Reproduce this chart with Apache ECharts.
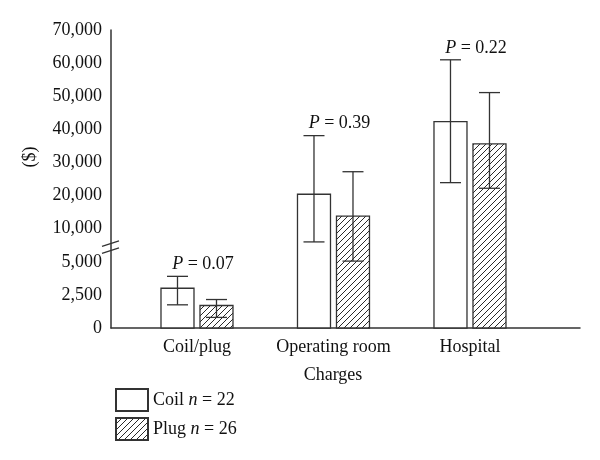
<!DOCTYPE html>
<html>
<head>
<meta charset="utf-8">
<script src="https://cdn.jsdelivr.net/npm/echarts@6/dist/echarts.min.js"></script>
<style>html,body{margin:0;padding:0;background:#fff;}#c{width:600px;height:460px;}</style>
</head>
<body>
<div id="c"></div>
<script>
const categories = ['Coil/plug', 'Operating room', 'Hospital'];
const coilMean = [3000, 20400, 42300];
const coilLow = [1750, 8000, 23900];
const coilHigh = [3900, 38100, 61000];
const plugMean = [1700, 13800, 35600];
const plugLow = [800, 5100, 22200];
const plugHigh = [2150, 27200, 51100];
const pValues = ['0.07', '0.39', '0.22'];
const legendN = [22, 26];
const yTickLabels = ['0', '2,500', '5,000', '10,000', '20,000', '30,000', '40,000', '50,000', '60,000', '70,000'];

// broken axis: 0-5000 in 2500 steps, then 10,000-70,000 in 10,000 steps
function toAxis(v) {
  if (v <= 5000) return v / 2500;
  if (v <= 10000) return 2 + (v - 5000) / 5000;
  return 3 + (v - 10000) / 10000;
}

const FONT = '"Liberation Serif", "DejaVu Serif", serif';
const INK = '#333';
const TXT = '#111';

function hatch() {
  const c = document.createElement('canvas');
  const s = 6;
  c.width = s; c.height = s;
  const g = c.getContext('2d');
  g.fillStyle = '#fff';
  g.fillRect(0, 0, s, s);
  g.strokeStyle = '#2a2a2a';
  g.lineWidth = 1;
  g.beginPath();
  g.moveTo(0, s); g.lineTo(s, 0);
  g.moveTo(-s / 2, s / 2); g.lineTo(s / 2, -s / 2);
  g.moveTo(s / 2, s * 1.5); g.lineTo(s * 1.5, s / 2);
  g.stroke();
  return c;
}
const hatchPattern = { image: hatch(), repeat: 'repeat' };

const BAR_W = 33;
const OFF = 19.5;
const X_MIN = -0.63, X_MAX = 2.806;

function barSeries(name, means, side, color) {
  return {
    name: name,
    type: 'custom',
    itemStyle: { color: color, borderColor: INK, borderWidth: 1.3 },
    encode: { x: 0, y: 1 },
    data: means.map((v, i) => [i, toAxis(v)]),
    renderItem: function (params, api) {
      const top = api.coord([api.value(0), api.value(1)]);
      const base = api.coord([api.value(0), 0]);
      const cx = top[0] + side * OFF;
      return {
        type: 'rect',
        shape: { x: cx - BAR_W / 2, y: top[1], width: BAR_W, height: base[1] - top[1] },
        style: { fill: color, stroke: INK, lineWidth: 1.3 }
      };
    }
  };
}

function errSeries(name, lows, highs, side, withP) {
  return {
    name: name,
    type: 'custom',
    encode: { x: 0, y: [1, 2] },
    data: lows.map((v, i) => [i, toAxis(v), toAxis(highs[i])]),
    z: 5,
    renderItem: function (params, api) {
      const lo = api.coord([api.value(0), api.value(1)]);
      const hi = api.coord([api.value(0), api.value(2)]);
      const gx = lo[0];
      const cx = gx + side * OFF;
      const cap = 10.5;
      const st = { stroke: INK, lineWidth: 1.3 };
      const children = [
        { type: 'line', shape: { x1: cx, y1: lo[1], x2: cx, y2: hi[1] }, style: st },
        { type: 'line', shape: { x1: cx - cap, y1: lo[1], x2: cx + cap, y2: lo[1] }, style: st },
        { type: 'line', shape: { x1: cx - cap, y1: hi[1], x2: cx + cap, y2: hi[1] }, style: st }
      ];
      if (withP) {
        children.push({
          type: 'text',
          x: gx + 6, y: hi[1] - 3,
          style: {
            text: '{i|P} = ' + pValues[params.dataIndex],
            rich: { i: { fontStyle: 'italic', fontFamily: FONT, fontSize: 18, fill: TXT } },
            fontFamily: FONT, fontSize: 18, fill: TXT,
            align: 'center', verticalAlign: 'bottom'
          }
        });
      }
      return { type: 'group', children: children };
    }
  };
}

const chart = echarts.init(document.getElementById('c'));
chart.setOption({
  animation: false,
  backgroundColor: '#fff',
  grid: { left: 111, right: 20, top: 30, bottom: 132 },
  xAxis: {
    type: 'value', min: X_MIN, max: X_MAX,
    axisLine: { show: true, onZero: false, lineStyle: { color: INK, width: 1.5 } },
    axisTick: { show: false }, axisLabel: { show: false }, splitLine: { show: false }
  },
  yAxis: {
    type: 'value', min: 0, max: 9, interval: 1,
    axisLine: { show: true, onZero: false, lineStyle: { color: INK, width: 1.5 } },
    axisTick: { show: false }, splitLine: { show: false },
    axisLabel: {
      margin: 9, color: TXT, fontFamily: FONT, fontSize: 18,
      formatter: function (v) { return yTickLabels[Math.round(v)]; }
    }
  },
  legend: {
    data: ['Coil', 'Plug'],
    orient: 'vertical', left: 110, top: 383,
    itemWidth: 32, itemHeight: 22, itemGap: 5,
    icon: 'rect',
    formatter: function (name) {
      return name + ' {i|n} = ' + (name === 'Coil' ? legendN[0] : legendN[1]);
    },
    textStyle: {
      color: TXT, fontFamily: FONT, fontSize: 18,
      rich: { i: { fontStyle: 'italic', fontFamily: FONT, fontSize: 18, color: TXT } }
    }
  },
  graphic: [
    { type: 'text', x: 30, y: 157, rotation: Math.PI / 2,
      style: { text: '($)', fontFamily: FONT, fontSize: 18, fill: TXT, align: 'center', verticalAlign: 'middle' } },
    { type: 'text', x: 333, y: 375,
      style: { text: 'Charges', fontFamily: FONT, fontSize: 18, fill: TXT, align: 'center', verticalAlign: 'middle' } }
  ],
  series: [
    barSeries('Coil', coilMean, -1, '#fff'),
    barSeries('Plug', plugMean, 1, hatchPattern),
    errSeries('CoilErr', coilLow, coilHigh, -1, true),
    errSeries('PlugErr', plugLow, plugHigh, 1, false),
    {
      name: 'labels', type: 'custom', encode: { x: 0, y: 1 },
      data: categories.map((c, i) => [i, 0]),
      renderItem: function (params, api) {
        const p = api.coord([api.value(0), 0]);
        return { type: 'text', x: p[0], y: p[1] + 19,
          style: { text: categories[params.dataIndex], fontFamily: FONT, fontSize: 18, fill: TXT, align: 'center', verticalAlign: 'middle' } };
      }
    },
    {
      name: 'break', type: 'custom', encode: { x: 0, y: 1 }, clip: false, z: 10,
      data: [[X_MIN, 2.45]],
      renderItem: function (params, api) {
        const p = api.coord([api.value(0), api.value(1)]);
        const st = { stroke: INK, lineWidth: 1.3 };
        return { type: 'group', children: [
          { type: 'line', shape: { x1: p[0] - 9, y1: p[1] - 0.5, x2: p[0] + 8, y2: p[1] - 6 }, style: st },
          { type: 'line', shape: { x1: p[0] - 9, y1: p[1] + 6.5, x2: p[0] + 8, y2: p[1] + 1 }, style: st }
        ] };
      }
    }
  ]
});
</script>
</body>
</html>
